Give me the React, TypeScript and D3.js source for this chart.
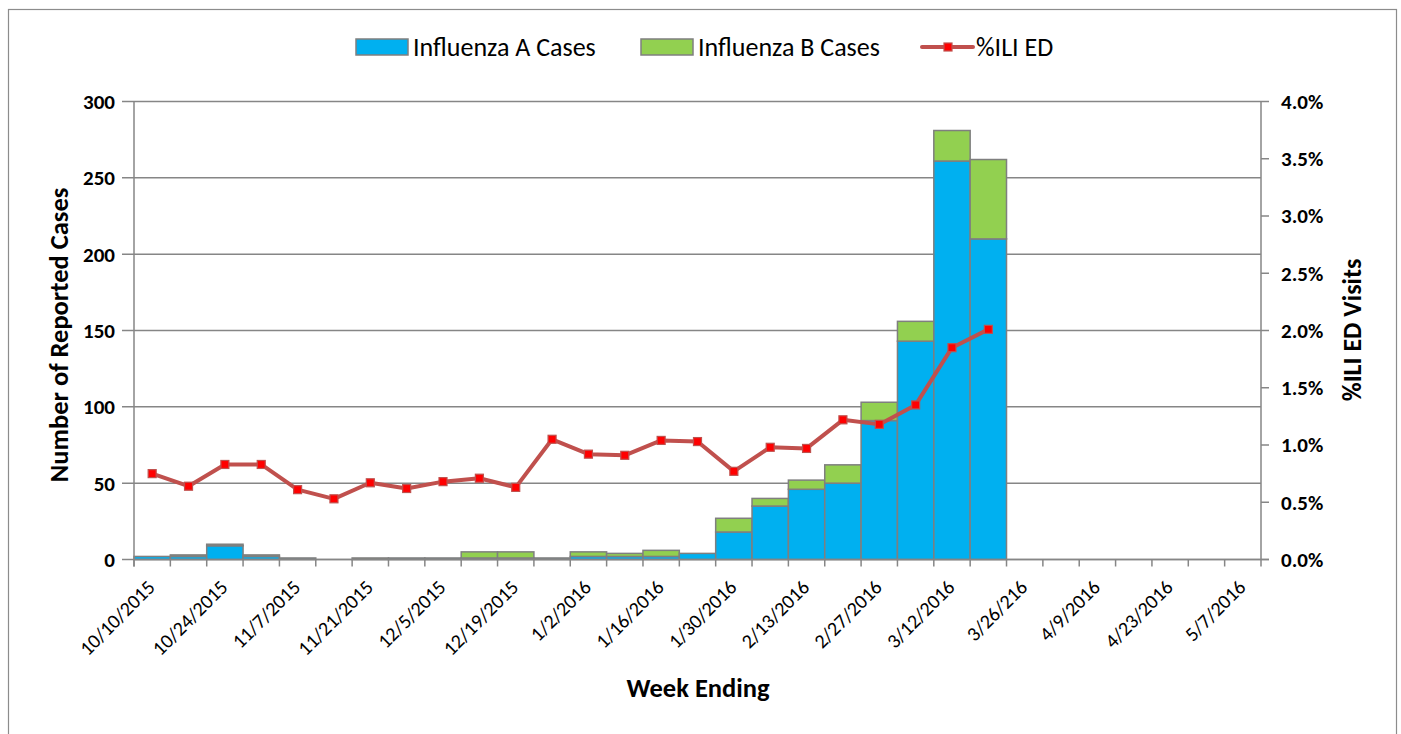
import * as d3 from 'd3';

// week ending labels (the 3/26 typo is in the source chart)
const weeks = [
  '10/10/2015', '10/17/2015', '10/24/2015', '10/31/2015', '11/7/2015', '11/14/2015',
  '11/21/2015', '11/28/2015', '12/5/2015', '12/12/2015', '12/19/2015', '12/26/2015',
  '1/2/2016', '1/9/2016', '1/16/2016', '1/23/2016', '1/30/2016', '2/6/2016',
  '2/13/2016', '2/20/2016', '2/27/2016', '3/5/2016', '3/12/2016', '3/19/2016',
  '3/26/216', '4/2/2016', '4/9/2016', '4/16/2016', '4/23/2016', '4/30/2016', '5/7/2016',
];

const fluA = [2, 2, 9, 2, 1, 0, 0, 1, 1, 1, 1, 1, 2, 2, 2, 4, 18, 35, 46, 50, 91, 143, 261, 210];
const fluB = [0, 1, 1, 1, 0, 0, 1, 0, 0, 4, 4, 0, 3, 2, 4, 0, 9, 5, 6, 12, 12, 13, 20, 52];
// %ILI ED visits
const iliPct = [
  0.75, 0.64, 0.83, 0.83, 0.61, 0.53, 0.67, 0.62, 0.68, 0.71, 0.63, 1.05,
  0.92, 0.91, 1.04, 1.03, 0.77, 0.98, 0.97, 1.22, 1.18, 1.35, 1.85, 2.01,
];

const leftTicks = [0, 50, 100, 150, 200, 250, 300];
const rightTicks = [0, 0.5, 1, 1.5, 2, 2.5, 3, 3.5, 4];

const W = 1401;
const H = 734;
const FONT = "Carlito, Calibri, Lato, sans-serif";
const GRID = '#868686';
const COLOR_A = '#00B0F0';
const COLOR_B = '#92D050';
const LINE = '#C0504D';

const App = () => {
  const plot = { left: 134, right: 1261, top: 101.5, bottom: 559.5 };

  const x = d3.scaleBand<string>().domain(weeks).range([plot.left, plot.right]).padding(0);
  const yL = d3.scaleLinear().domain([0, 300]).range([plot.bottom, plot.top]);
  const yR = d3.scaleLinear().domain([0, 4]).range([plot.bottom, plot.top]);
  const cx = (i: number) => (x(weeks[i]) ?? 0) + x.bandwidth() / 2;

  const line = d3
    .line<number>()
    .x((_, i) => cx(i))
    .y((d) => yR(d));

  return (
    <div style={{ position: 'absolute', left: 0, top: 0 }}>
      <svg width={W} height={H} style={{ display: 'block', fontFamily: FONT }}>
        <rect x={0} y={0} width={W} height={H} fill="#fff" />
        <rect x={8.5} y={9.5} width={1388} height={740} fill="none" stroke="#8c8c8c" strokeWidth={1.2} />

        {/* gridlines */}
        {leftTicks.map((t) => (
          <line key={t} x1={plot.left - 12} x2={plot.right} y1={yL(t)} y2={yL(t)} stroke={GRID} strokeWidth={1.5} />
        ))}

        {/* stacked bars */}
        {fluA.map((a, i) => {
          const b = fluB[i];
          const bx = x(weeks[i]) ?? 0;
          return (
            <g key={i}>
              <rect x={bx} y={yL(a)} width={x.bandwidth()} height={yL(0) - yL(a)} fill={COLOR_A} stroke="#7f7f7f" strokeWidth={1.5} />
              <rect x={bx} y={yL(a + b)} width={x.bandwidth()} height={yL(a) - yL(a + b)} fill={COLOR_B} stroke="#7f7f7f" strokeWidth={1.5} />
            </g>
          );
        })}

        {/* axes */}
        <line x1={plot.left} x2={plot.left} y1={plot.top} y2={plot.bottom + 7} stroke={GRID} strokeWidth={1.5} />
        <line x1={plot.right} x2={plot.right} y1={plot.top} y2={plot.bottom + 7} stroke={GRID} strokeWidth={1.5} />
        <line x1={plot.left} x2={plot.right + 8} y1={plot.bottom} y2={plot.bottom} stroke={GRID} strokeWidth={1.5} />
        {weeks.map((w) => (
          <line key={w} x1={x(w)} x2={x(w)} y1={plot.bottom} y2={plot.bottom + 7} stroke={GRID} strokeWidth={1.5} />
        ))}
        {rightTicks.map((t) => (
          <line key={t} x1={plot.right} x2={plot.right + 8} y1={yR(t)} y2={yR(t)} stroke={GRID} strokeWidth={1.5} />
        ))}

        {/* ILI line */}
        <path d={line(iliPct) ?? ''} fill="none" stroke={LINE} strokeWidth={4} strokeLinejoin="round" />
        {iliPct.map((v, i) => (
          <rect key={i} x={cx(i) - 4} y={yR(v) - 4} width={8} height={8} fill="#FF0000" stroke={LINE} strokeWidth={1.2} />
        ))}

        {/* tick labels */}
        {leftTicks.map((t) => (
          <text key={t} x={115} y={yL(t)} dy="0.35em" textAnchor="end" fontSize={21} fontWeight="bold" fill="#000">
            {t}
          </text>
        ))}
        {rightTicks.map((t) => (
          <text key={t} x={1281} y={yR(t)} dy="0.35em" textAnchor="start" fontSize={21} fontWeight="bold" fill="#000">
            {`${t.toFixed(1)}%`}
          </text>
        ))}
        {weeks.map((w, i) =>
          i % 2 === 0 ? (
            <text
              key={w}
              transform={`translate(${cx(i) + 4},${plot.bottom + 29}) rotate(-45)`}
              textAnchor="end"
              fontSize={20}
              fill="#000"
            >
              {w}
            </text>
          ) : null,
        )}

        {/* axis titles */}
        <text x={698} y={697} textAnchor="middle" fontSize={26.5} fontWeight="bold">Week Ending</text>
        <text transform={`translate(68,335) rotate(-90)`} textAnchor="middle" fontSize={26.5} fontWeight="bold">
          Number of Reported Cases
        </text>
        <text transform={`translate(1361,330) rotate(-90)`} textAnchor="middle" fontSize={26} fontWeight="bold">
          %ILI ED Visits
        </text>

        {/* legend */}
        <rect x={356} y={39} width={52} height={16} fill={COLOR_A} stroke="#7f7f7f" strokeWidth={1.5} />
        <text x={413} y={47} dy="0.35em" fontSize={26}>Influenza A Cases</text>
        <rect x={641} y={39} width={52} height={16} fill={COLOR_B} stroke="#7f7f7f" strokeWidth={1.5} />
        <text x={698} y={47} dy="0.35em" fontSize={26}>Influenza B Cases</text>
        <line x1={922} x2={973} y1={47} y2={47} stroke={LINE} strokeWidth={4} strokeLinecap="round" />
        <rect x={944} y={43} width={8} height={8} fill="#FF0000" stroke={LINE} strokeWidth={1.2} />
        <text x={976} y={47} dy="0.35em" fontSize={26}>%ILI ED</text>
      </svg>
    </div>
  );
};

export default App;
